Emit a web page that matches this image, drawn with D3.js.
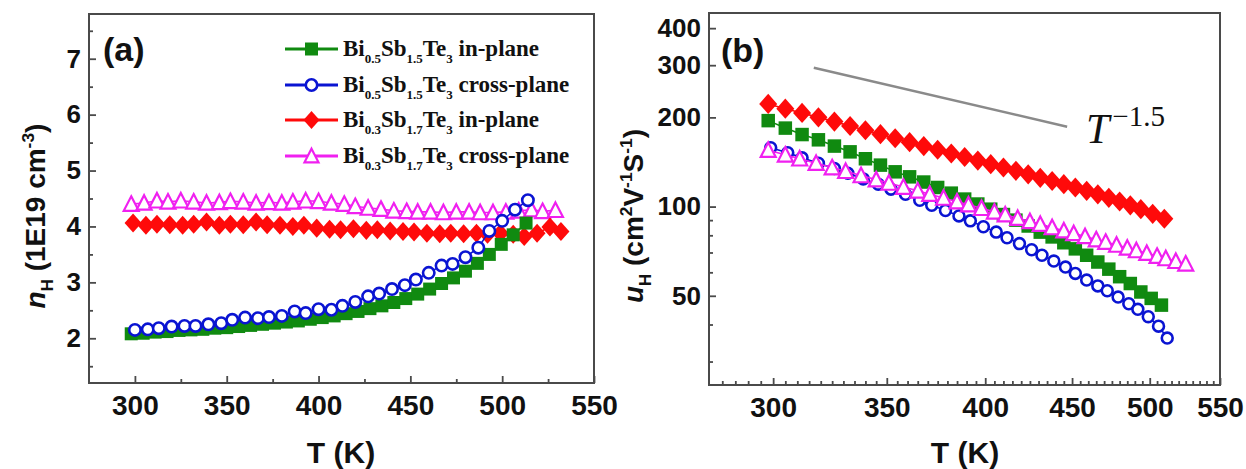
<!DOCTYPE html>
<html><head><meta charset="utf-8">
<script src="https://cdn.jsdelivr.net/npm/d3@7"></script>
<style>
html,body{margin:0;padding:0;background:#fff;}
svg{display:block;}
</style></head>
<body>
<svg id="chart" width="1246" height="469"></svg>
<script>
// ---------- DATA ----------
// Panel (a): Hall carrier concentration n_H (1E19 cm^-3) vs T (K)
const aGreenT = [298,304.5,311,317.5,324,330.5,337,343.5,350,356.5,363,369.5,376,382.5,389,395.5,402,408.5,415,421.5,428,434.5,441,447.5,454,460.5,467,473.5,480,486.5,493,499.5,506,513];
const aGreenN = [2.08,2.09,2.11,2.12,2.14,2.15,2.16,2.18,2.19,2.21,2.23,2.25,2.27,2.29,2.31,2.34,2.37,2.40,2.44,2.48,2.53,2.58,2.64,2.71,2.79,2.88,2.98,3.08,3.20,3.34,3.50,3.68,3.85,4.06];
const aBlueT = [300,307,313,320,327,333,340,347,353,360,367,373,380,387,393,400,407,413,420,427,433,440,447,453,460,467,473,480,487,493,500,507,514];
const aBlueN = [2.15,2.16,2.18,2.21,2.22,2.22,2.25,2.27,2.33,2.37,2.36,2.38,2.40,2.48,2.45,2.52,2.51,2.58,2.65,2.75,2.80,2.88,2.95,3.05,3.17,3.30,3.33,3.45,3.62,3.92,4.10,4.30,4.47];
const aRedT = [299,306,312,319,326,332,339,346,352,359,366,372,379,386,392,399,406,412,419,426,432,439,446,452,459,466,472,479,486,492,499,506,512,519,526,532];
const aRedN = [4.06,4.02,4.04,4.03,4.02,4.04,4.08,4.02,4.04,4.03,4.08,4.03,4.02,4.00,4.02,3.97,3.95,3.94,3.96,3.93,3.94,3.92,3.91,3.90,3.88,3.87,3.88,3.87,3.88,3.86,3.88,3.86,3.82,3.88,3.99,3.91];
const aMagT = [298,305,312,318,325,332,339,346,352,359,366,373,380,386,393,400,407,414,420,427,434,441,448,454,461,468,475,482,488,495,502,509,516,522,529];
const aMagN = [4.40,4.42,4.46,4.44,4.46,4.44,4.42,4.43,4.45,4.44,4.42,4.43,4.42,4.44,4.46,4.45,4.42,4.40,4.36,4.33,4.31,4.28,4.27,4.26,4.26,4.25,4.26,4.26,4.25,4.25,4.26,4.28,4.30,4.27,4.29];

// Panel (b): Hall mobility u_H (cm^2 V^-1 s^-1) vs T (K), log-log
const bGreenT = [298,305,312,319,326,333,340,347,354,361,368,375,382,389,396,403,410,417,424,431,438,445,452,459,466,473,480,487,494,501,508];
const bGreenU = [195,184,175,168,160,153,145,138,131,126,121,116,111,106,102,98,94,90,86,82,79,75.5,72,68.5,65,61.5,58,55,51.5,49,46.5];
const bBlueT = [299,306,312,319,326,332,339,346,352,359,366,372,379,386,392,399,406,412,419,426,432,439,446,452,459,466,472,479,486,492,499,506,512];
const bBlueU = [158,152,146,140,134.5,129.5,124,119,114.5,110,105,101,97,93,89.5,85.5,82,78.5,75,71.5,68.5,65.5,62.5,59.5,56.5,54,52,49.5,47,45,42.5,39.5,36];
const bRedT = [298,305,312,319,326,333,340,347,354,361,368,375,382,389,396,403,410,417,424,431,438,445,452,459,466,473,480,487,494,502,510];
const bRedU = [222,214,207,200,193.5,187,181,175.5,170,165,160,155.5,151,147,143,139,135.5,132,128.5,125,122,119,116,113,110,107,104,101,98,94.5,91];
const bMagT = [298,305,311,318,325,331,338,345,351,358,365,371,378,385,391,398,405,411,418,425,431,438,445,451,458,465,471,478,485,491,498,505,511,518,525];
const bMagU = [155,149.5,145,140.1,135.4,131.6,127.3,123.3,120.1,116.4,113,110.1,106.9,103.9,101.5,98.7,96,93.9,91.4,89.1,87.2,85,82.9,81.2,79.3,77.4,75.9,74.2,72.5,71.1,69.6,68.1,66.8,65.4,64.1];

// T^-1.5 guide line endpoints (T, u)
const guideT = [317, 447];
const guideU = [294, 186];

// Ticks
const aXTicks = [300,350,400,450,500,550];
const aXMinor = [325,375,425,475,525];
const aYTicks = [2,3,4,5,6,7];
const aYMinor = [1.5,2.5,3.5,4.5,5.5,6.5,7.5];
const bXTicks = [300,350,400,450,500,550];
const bXMinor = [280,285,290,295,305,310,315,320,325,330,335,340,345,355,360,365,370,375,380,385,390,395,405,410,415,420,425,430,435,440,445,455,460,465,470,475,480,485,490,495,505,510,515,520,525,530,535,540,545];
const bYTicks = [50,100,200,300,400];
const bYMinor = [30,40,60,70,80,90];

const seriesNames = [
  [["Bi",""],["0.5","sub"],["Sb",""],["1.5","sub"],["Te",""],["3","sub"],[" in-plane",""]],
  [["Bi",""],["0.5","sub"],["Sb",""],["1.5","sub"],["Te",""],["3","sub"],[" cross-plane",""]],
  [["Bi",""],["0.3","sub"],["Sb",""],["1.7","sub"],["Te",""],["3","sub"],[" in-plane",""]],
  [["Bi",""],["0.3","sub"],["Sb",""],["1.7","sub"],["Te",""],["3","sub"],[" cross-plane",""]]
];

// ---------- STYLE ----------
const colGreen = "#108a10", colBlue = "#0a14d2", colRed = "#ff0a0a", colMag = "#f020f0";
const frameCol = "#4a4a4a";
const sans = "'Liberation Sans', Arial, sans-serif";
const serif = "'Liberation Serif', 'Times New Roman', serif";

const svg = d3.select("#chart");

function markerPath(kind, s) {
  if (kind === "square") { const h = s/2; return `M${-h},${-h}H${h}V${h}H${-h}Z`; }
  if (kind === "diamond") { const w = s/2, h = s*0.56; return `M0,${-h}L${w},0L0,${h}L${-w},0Z`; }
  if (kind === "triangle") { const w = s/2, h = s*0.45; return `M0,${-h-1}L${w},${h}L${-w},${h}Z`; }
  return null;
}
function drawMarker(g, kind, color, x, y, s) {
  if (kind === "circle") {
    g.append("circle").attr("cx", x).attr("cy", y).attr("r", s/2 - 1.3)
      .attr("fill", "#fff").attr("stroke", color).attr("stroke-width", 2.6);
  } else if (kind === "triangle") {
    g.append("path").attr("d", markerPath(kind, s)).attr("transform", `translate(${x},${y})`)
      .attr("fill", "#fff").attr("stroke", color).attr("stroke-width", 2.2).attr("stroke-linejoin","miter");
  } else {
    g.append("path").attr("d", markerPath(kind, s)).attr("transform", `translate(${x},${y})`)
      .attr("fill", color);
  }
}

function panel(opts) {
  const {x, y, xTicks, xMinor, yTicks, yMinor, series, yFmt} = opts;
  const [x0, x1] = x.range(), [y0, y1] = y.range();
  const g = svg.append("g");

  series.forEach(s => {
    const pts = s.T.map((t, i) => [x(t), y(s.V[i])]);
    g.append("path").attr("d", d3.line()(pts)).attr("fill", "none")
      .attr("stroke", s.color).attr("stroke-width", 1.6);
    pts.forEach(p => drawMarker(g, s.kind, s.color, p[0], p[1], s.size));
  });

  const axB = g.append("g").attr("transform", `translate(0,${y0})`)
    .call(d3.axisBottom(x).tickValues(xTicks).tickSize(-7).tickPadding(12).tickFormat(d3.format("d")));
  const axBm = g.append("g").attr("transform", `translate(0,${y0})`)
    .call(d3.axisBottom(x).tickValues(xMinor).tickSize(-4).tickFormat(""));
  const axL = g.append("g").attr("transform", `translate(${x0},0)`)
    .call(d3.axisLeft(y).tickValues(yTicks).tickSize(-7).tickPadding(8).tickFormat(yFmt));
  const axLm = g.append("g").attr("transform", `translate(${x0},0)`)
    .call(d3.axisLeft(y).tickValues(yMinor).tickSize(-4).tickFormat(""));
  [axB, axBm, axL, axLm].forEach(a => {
    a.select(".domain").remove();
    a.selectAll(".tick line").attr("stroke", frameCol).attr("stroke-width", 1.8);
  });
  axB.selectAll(".tick text").attr("font-family", sans).attr("font-weight", "bold")
    .attr("font-size", 28).attr("fill", "#111");
  axL.selectAll(".tick text").attr("font-family", sans).attr("font-weight", "bold")
    .attr("font-size", 26).attr("fill", "#111");

  g.append("rect").attr("x", x0).attr("y", y1).attr("width", x1 - x0).attr("height", y0 - y1)
    .attr("fill", "none").attr("stroke", frameCol).attr("stroke-width", 2);
  return g;
}

const xA = d3.scaleLinear().domain([275, 550]).range([89, 594]);
const yA = d3.scaleLinear().domain([1.2, 7.8]).range([383, 14]);
const xB = d3.scaleLog().domain([275, 550]).range([709, 1220]);
const yB = d3.scaleLog().domain([25, 450]).range([385, 13]);

panel({x: xA, y: yA, xTicks: aXTicks, xMinor: aXMinor, yTicks: aYTicks, yMinor: aYMinor, yFmt: d3.format("d"),
  series: [
    {T: aMagT, V: aMagN, color: colMag, kind: "triangle", size: 15},
    {T: aRedT, V: aRedN, color: colRed, kind: "diamond", size: 17},
    {T: aGreenT, V: aGreenN, color: colGreen, kind: "square", size: 13},
    {T: aBlueT, V: aBlueN, color: colBlue, kind: "circle", size: 14}
  ]});

panel({x: xB, y: yB, xTicks: bXTicks, xMinor: bXMinor, yTicks: bYTicks, yMinor: bYMinor, yFmt: d3.format("d"),
  series: [
    {T: bGreenT, V: bGreenU, color: colGreen, kind: "square", size: 13.5},
    {T: bBlueT, V: bBlueU, color: colBlue, kind: "circle", size: 13.5},
    {T: bMagT, V: bMagU, color: colMag, kind: "triangle", size: 15},
    {T: bRedT, V: bRedU, color: colRed, kind: "diamond", size: 18}
  ]});

// guide line T^-1.5
svg.append("line").attr("x1", xB(guideT[0])).attr("y1", yB(guideU[0]))
  .attr("x2", xB(guideT[1])).attr("y2", yB(guideU[1]))
  .attr("stroke", "#8a8a8a").attr("stroke-width", 2.4);
const tg = svg.append("text").attr("x", 1086).attr("y", 143).attr("font-family", serif).attr("fill", "#111");
tg.append("tspan").attr("font-style", "italic").attr("font-size", 42).text("T");
tg.append("tspan").attr("font-size", 29).attr("dy", -17).attr("dx", 3).text("\u22121.5");

// panel labels
svg.append("text").attr("x", 103).attr("y", 61).attr("font-family", sans).attr("font-weight", "bold")
  .attr("font-size", 34).attr("fill", "#111").text("(a)");
svg.append("text").attr("x", 721).attr("y", 62).attr("font-family", sans).attr("font-weight", "bold")
  .attr("font-size", 34).attr("fill", "#111").text("(b)");

// x titles
[[341, "T (K)"], [965, "T (K)"]].forEach(([cx, t]) => {
  svg.append("text").attr("x", cx).attr("y", 463).attr("text-anchor", "middle")
    .attr("font-family", sans).attr("font-weight", "bold").attr("font-size", 30).attr("fill", "#111").text(t);
});

function richText(parent, parts, size) {
  const t = parent.append("text").attr("text-anchor", "middle").attr("font-family", sans)
    .attr("font-weight", "bold").attr("font-size", size).attr("fill", "#111");
  let shift = 0;
  parts.forEach(([s, kind]) => {
    const sp = t.append("tspan").text(s);
    let target = 0;
    if (kind === "sub") { target = size * 0.28; sp.attr("font-size", size * 0.6); }
    else if (kind === "sup") { target = -size * 0.38; sp.attr("font-size", size * 0.62); }
    else if (kind === "ital") { sp.attr("font-style", "italic"); }
    if (target !== shift) { sp.attr("dy", target - shift); shift = target; }
  });
  return t;
}
richText(svg.append("g").attr("transform", "translate(45,216) rotate(-90)"),
  [["n","ital"],["H","sub"],[" (1E19 cm",""],["-3","sup"],[")",""]], 28);
richText(svg.append("g").attr("transform", "translate(643,216) rotate(-90)"),
  [["u","ital"],["H","sub"],[" (cm",""],["2","sup"],["V",""],["-1","sup"],["S",""],["-1","sup"],[")",""]], 28);

// legend
const legKinds = [["square", colGreen, 13], ["circle", colBlue, 14], ["diamond", colRed, 16], ["triangle", colMag, 14]];
const legY = [49, 85, 120, 156];
const lg = svg.append("g");
legKinds.forEach(([kind, col, s], i) => {
  const yy = legY[i];
  lg.append("line").attr("x1", 285).attr("x2", 338).attr("y1", yy).attr("y2", yy)
    .attr("stroke", col).attr("stroke-width", 3);
  drawMarker(lg, kind, col, 311.5, yy, s);
  const t = lg.append("text").attr("x", 343).attr("y", yy + 7).attr("font-family", serif)
    .attr("font-weight", "bold").attr("font-size", 23).attr("fill", "#111");
  let shift = 0;
  seriesNames[i].forEach(([s2, k]) => {
    const sp = t.append("tspan").text(s2);
    const target = k === "sub" ? 7 : 0;
    if (k === "sub") sp.attr("font-size", 13);
    if (target !== shift) { sp.attr("dy", target - shift); shift = target; }
  });
});
</script>
</body></html>
